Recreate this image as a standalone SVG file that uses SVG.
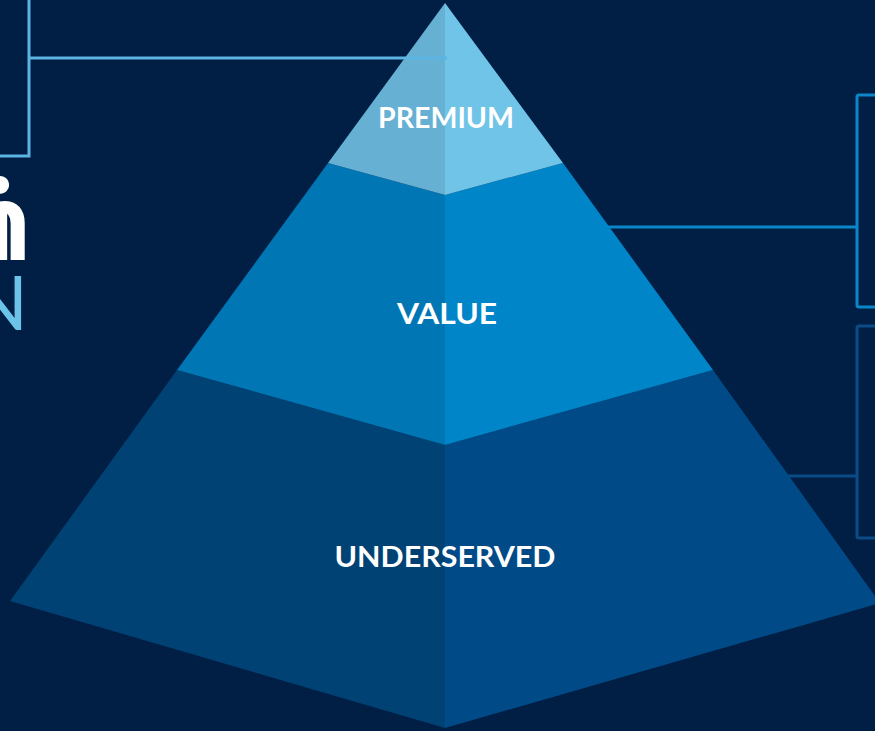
<svg xmlns="http://www.w3.org/2000/svg" width="875" height="731" viewBox="0 0 875 731">
  <style>
    .label { font-family: Lato, "Open Sans", "Liberation Sans", sans-serif; font-weight: 700; fill: #ffffff; text-anchor: middle; font-size: 28.5px; }
    .edge { font-family: Lato, "Liberation Sans", sans-serif; }
    .conn { fill: none; stroke-width: 3; }
    .light { stroke: #5cb4e3; }
    .mid { stroke: #0a86c9; }
    .deep { stroke: #0b4c87; }
  </style>
  <rect width="875" height="731" fill="#011e44"/>

  <!-- clipped title letters at the left edge -->
  <g id="title-edge">
    <text class="edge" y="260" font-weight="700" font-size="113" fill="#ffffff"><tspan x="0" text-anchor="middle">i</tspan><tspan x="31" text-anchor="end">n</tspan></text>
    <text class="edge" x="28" y="330" text-anchor="end" font-weight="400" font-size="76" fill="#6cc3ea">N</text>
  </g>

  <!-- connectors behind the pyramid -->
  <g id="connectors">
    <polyline class="conn light" points="29,0 29,156 0,156"/>
    <rect class="conn mid" x="857" y="95" width="40" height="212" rx="2"/>
    <line class="conn mid" x1="600" y1="227" x2="857" y2="227"/>
    <rect class="conn deep" x="857" y="326" width="40" height="212" rx="2"/>
    <line class="conn deep" x1="780" y1="476" x2="857" y2="476"/>
  </g>

  <!-- bottom tier -->
  <g id="underserved">
    <polygon points="177,370 445,445 445,728 10,601" fill="#014274"/>
    <polygon points="445,445 713,370 880,603 445,728" fill="#004b87"/>
    <text class="label" x="445" y="567" textLength="221" lengthAdjust="spacingAndGlyphs">UNDERSERVED</text>
  </g>

  <!-- middle tier -->
  <g id="value">
    <polygon points="328,163 445,195 445,445 177,370" fill="#0077b4"/>
    <polygon points="445,195 563,163 713,370 445,445" fill="#0086c8"/>
    <text class="label" x="447" y="324" textLength="100" lengthAdjust="spacingAndGlyphs">VALUE</text>
  </g>

  <!-- top tier -->
  <g id="premium">
    <polygon points="445,3 445,195 328,163" fill="#66b0d3"/>
    <polygon points="445,3 563,163 445,195" fill="#70c4e8"/>
    <text class="label" x="446" y="128" textLength="136" lengthAdjust="spacingAndGlyphs">PREMIUM</text>
  </g>

  <!-- lead line drawn across the top tier -->
  <g id="top-lead">
    <line class="conn light" x1="29" y1="58" x2="447" y2="58"/>
  </g>
</svg>
